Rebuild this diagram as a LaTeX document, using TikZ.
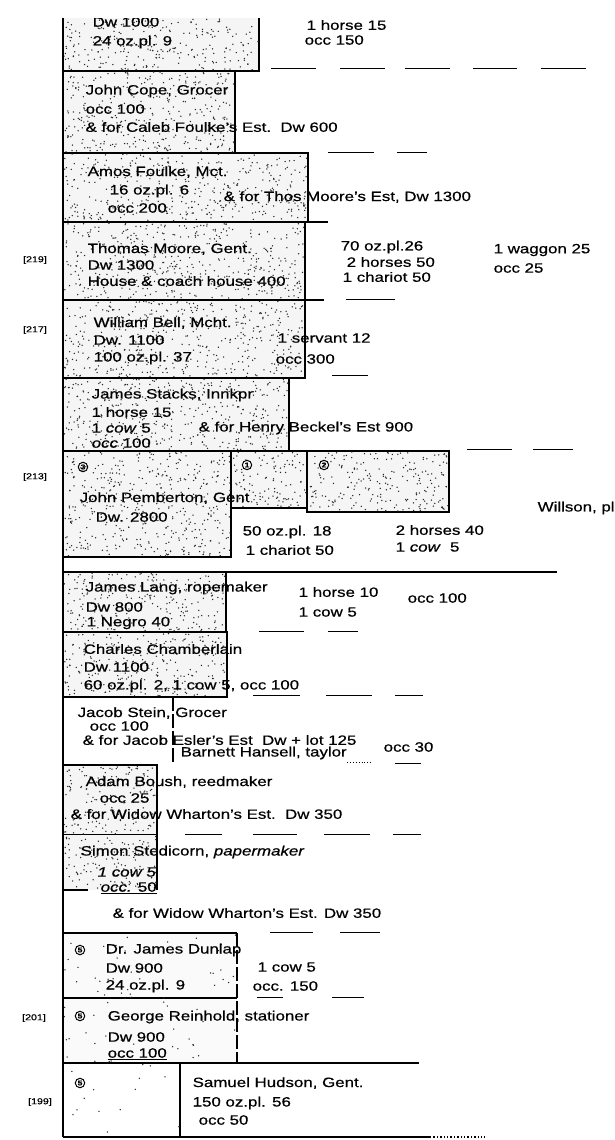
\documentclass[tikz,border=0pt]{standalone}
\usepackage{fontspec}
\setmainfont[FakeStretch=1.25, FakeBold=0.6]{Liberation Sans}
\usepackage{tikz}
\usetikzlibrary{positioning}
\definecolor{stipple}{gray}{0.96}
\definecolor{faint}{gray}{0.98}
% random specks inside a lot: x1, y1, x2, y2, count
\newcommand{\speckle}[5]{%
  \foreach \k in {1,...,#5}{%
    \pgfmathsetmacro\sx{#1+rnd*(#3-#1)}%
    \pgfmathsetmacro\sy{#2+rnd*(#4-#2)}%
    \fill[black!85] (\sx,\sy) circle[radius=0.75pt];}}

\begin{document}
\begin{tikzpicture}[x=1pt, y=-1pt, line width=1.4pt, every node/.style={inner sep=0, anchor=west}]
    \tikzstyle{lot}=[fill=stipple, draw=black]
    \tikzstyle{txt}=[font=\fontsize{13.5}{16}\selectfont]
    \tikzstyle{num}=[anchor=center, font=\fontsize{8.5}{9}\selectfont]
    \tikzstyle{ring}=[circle, draw, anchor=center, line width=1pt,
      inner sep=0.9pt, font=\fontsize{7}{7}\selectfont\bfseries]
    \tikzstyle{gap}=[line width=0.9pt]
    \pgfmathsetseed{41}
    \useasboundingbox (0,0) rectangle (614,1140);
    \clip (0,19) rectangle (614,1140);
  % lots
    \draw[lot] (63,0) rectangle (259,71);
    \draw[lot] (63,71) rectangle (235,153);
    \draw[lot] (63,153) rectangle (308,222);
    \draw[lot] (63,222) rectangle (305,300);
    \draw[lot] (63,300) rectangle (305,378);
    \draw[lot] (63,378) rectangle (289,451);
    \draw[lot] (63,451) rectangle (231,557);
    \draw[lot] (231,451) rectangle (307,508);
    \draw[lot] (307,451) rectangle (449,512);
    \draw[lot] (63,572) rectangle (226,632);
    \draw[lot] (63,632) rectangle (227,697);
    \draw (63,697) -- (173,697);
    \draw[dash pattern=on 14pt off 3pt] (173,697) -- (173,765);
    \draw[lot] (63,765) rectangle (157,835);
    \fill[stipple] (63,835) rectangle (157,890);
    \draw (157,835) -- (157,890) (63,890) -- (88,890);
    \fill[faint] (63,933) rectangle (237,1063);
    \draw (63,933) -- (237,933) (63,998) -- (237,998);
    \draw[dash pattern=on 14pt off 3pt] (237,933) -- (237,1063);
    \draw (180,1063) -- (180,1137);
  % specks
    \speckle{64}{19}{258}{70}{250}
    \speckle{64}{72}{234}{152}{340}
    \speckle{64}{154}{307}{221}{400}
    \speckle{64}{223}{304}{299}{450}
    \speckle{64}{301}{304}{377}{450}
    \speckle{64}{379}{288}{450}{400}
    \speckle{64}{452}{230}{556}{430}
    \speckle{232}{452}{306}{507}{110}
    \speckle{308}{452}{448}{511}{220}
    \speckle{64}{573}{225}{631}{240}
    \speckle{64}{633}{226}{696}{250}
    \speckle{64}{766}{156}{834}{160}
    \speckle{64}{836}{156}{889}{120}
    \speckle{64}{934}{236}{1062}{70}
    \speckle{64}{1064}{179}{1136}{14}
  % long lines
    \draw (63,19) -- (63,1137);
    \draw (305,222) -- (328,222) (305,300) -- (324,300);
    \draw (63,572) -- (557,572);
    \draw (63,1063) -- (419,1063);
    \draw (63,1137) -- (430,1137);
    \draw[dotted] (430,1137) -- (485,1137);
  % broken lines
    \foreach \a/\b/\y in {271/316/68, 340/385/68, 405/450/68, 473/517/68, 541/586/68,
        328/374/152, 397/427/152, 346/395/299, 332/368/375, 467/512/449, 533/573/449,
        259/304/631, 328/358/631, 253/300/695, 326/372/695, 395/423/695,
        395/421/763, 185/222/834, 253/297/834, 324/370/834, 393/421/834,
        270/313/932, 340/380/932, 257/283/997, 332/364/997}
      \draw[gap] (\a,\y) -- (\b,\y);
    \draw[gap, dotted] (347,762) -- (372,762);
  % owners
    \path (92,22) node(dwtop) [txt] {Dw 1000}
          (92,42) node(pltop) [txt] {24 oz.pl. 9}
          (306,25) node(horsetop) [txt] {1 horse 15}
          (304,40) node(occtop) [txt] {occ 150};
    \path (85,91) node(cope) [txt] {John Cope, Grocer}
          (85,109) node(copeocc) [txt] {occ 100}
          (85,127) node(copeest) [txt] {\& for Caleb Foulke's Est.\ \ Dw 600};
    \path (87,172) node(amos) [txt] {Amos Foulke, Mct.}
          (109,191) node(amospl) [txt] {16 oz.pl. 6}
          (107,208) node(amosocc) [txt] {occ 200}
          (223,197) node(amosest) [txt] {\& for Thos Moore's Est, Dw 1300};
    \path (35,260) node(lot219) [num] {[219]}
          (87,249) node(moore) [txt] {Thomas Moore, Gent.}
          (87,265) node(mooredw) [txt] {Dw 1300}
          (87,281) node(moorehouse) [txt] {House \& coach house 400}
          (340,247) node(moorepl) [txt] {70 oz.pl.26}
          (346,262) node(moorehorse) [txt] {2 horses 50}
          (342,277) node(moorechar) [txt] {1 chariot 50}
          (493,250) node(moorewag) [txt] {1 waggon 25}
          (493,268) node(mooreocc) [txt] {occ 25};
    \path (35,330) node(lot217) [num] {[217]}
          (93,323) node(bell) [txt] {William Bell, Mcht.}
          (93,340) node(belldw) [txt] {Dw. 1100}
          (93,358) node(bellpl) [txt] {100 oz.pl. 37}
          (277,338) node(bellserv) [txt] {1 servant 12}
          (275,359) node(bellocc) [txt] {occ 300};
    \path (91,395) node(stacks) [txt] {James Stacks, Innkpr}
          (91,412) node(stackshorse) [txt] {1 horse 15}
          (91,428) node(stackscow) [txt] {1 \textit{cow} 5}
          (91,443) node(stacksocc) [txt] {\textit{occ} 100}
          (198,428) node(stacksest) [txt] {\& for Henry Beckel's Est 900};
    \path (35,477) node(lot213) [num] {[213]}
          (83,467) node(ringc) [ring] {3}
          (247,465) node(ringa) [ring] {1}
          (324,465) node(ringb) [ring] {2}
          (79,498) node(pem) [txt] {John Pemberton, Gent}
          (95,517) node(pemdw) [txt] {Dw. 2800}
          (242,532) node(pempl) [txt] {50 oz.pl. 18}
          (245,550) node(pemchar) [txt] {1 chariot 50}
          (395,530) node(pemhorse) [txt] {2 horses 40}
          (395,547) node(pemcow) [txt] {1 \textit{cow}\ \ 5}
          (537,508) node(willson) [txt] {Willson, pl};
    \path (85,588) node(lang) [txt] {James Lang, ropemaker}
          (85,607) node(langdw) [txt] {Dw 800}
          (86,623) node(langneg) [txt] {1 Negro 40}
          (298,592) node(langhorse) [txt] {1 horse 10}
          (298,612) node(langcow) [txt] {1 cow 5}
          (407,598) node(langocc) [txt] {occ 100};
    \path (83,649) node(cham) [txt] {Charles Chamberlain}
          (83,667) node(chamdw) [txt] {Dw 1100}
          (83,686) node(champl) [txt] {60 oz.pl. 2, 1 cow 5, occ 100};
    \path (77,713) node(stein) [txt] {Jacob Stein, Grocer}
          (89,726) node(steinocc) [txt] {occ 100}
          (82,740) node(steinest) [txt] {\& for Jacob Esler's Est\ \ Dw + lot 125}
          (383,747) node(steinocct) [txt] {occ 30}
          (180,753) node(hansell) [txt] {Barnett Hansell, taylor};
    \path (85,782) node(boush) [txt] {Adam Boush, reedmaker}
          (99,798) node(boushocc) [txt] {occ 25}
          (70,814) node(boushest) [txt] {\& for Widow Wharton's Est.\ \ Dw 350};
    \path (80,852) node(sted) [txt] {Simon Stedicorn, \textit{papermaker}}
          (97,872) node(stedcow) [txt] {\textit{1 cow 5}}
          (100,888) node(stedocc) [txt] {\underline{\textit{occ.} 50}}
          (112,913) node(wharton) [txt] {\& for Widow Wharton's Est. Dw 350};
    \path (80,950) node(ringd) [ring] {5}
          (105,950) node(dunlap) [txt] {Dr. James Dunlap}
          (105,968) node(dunlapdw) [txt] {Dw 900}
          (105,986) node(dunlappl) [txt] {24 oz.pl. 9}
          (257,967) node(dunlapcow) [txt] {1 cow 5}
          (252,986) node(dunlapocc) [txt] {occ. 150};
    \path (34,1018) node(lot201) [num] {[201]}
          (80,1016) node(ringe) [ring] {5}
          (107,1017) node(rein) [txt] {George Reinhold, stationer}
          (107,1037) node(reindw) [txt] {Dw 900}
          (107,1054) node(reinocc) [txt] {\underline{occ 100}};
    \path (40,1102) node(lot199) [num] {[199]}
          (80,1083) node(ringf) [ring] {5}
          (192,1083) node(hudson) [txt] {Samuel Hudson, Gent.}
          (192,1103) node(hudsonpl) [txt] {150 oz.pl. 56}
          (198,1120) node(hudsonocc) [txt] {occ 50};
\end{tikzpicture}
\end{document}
